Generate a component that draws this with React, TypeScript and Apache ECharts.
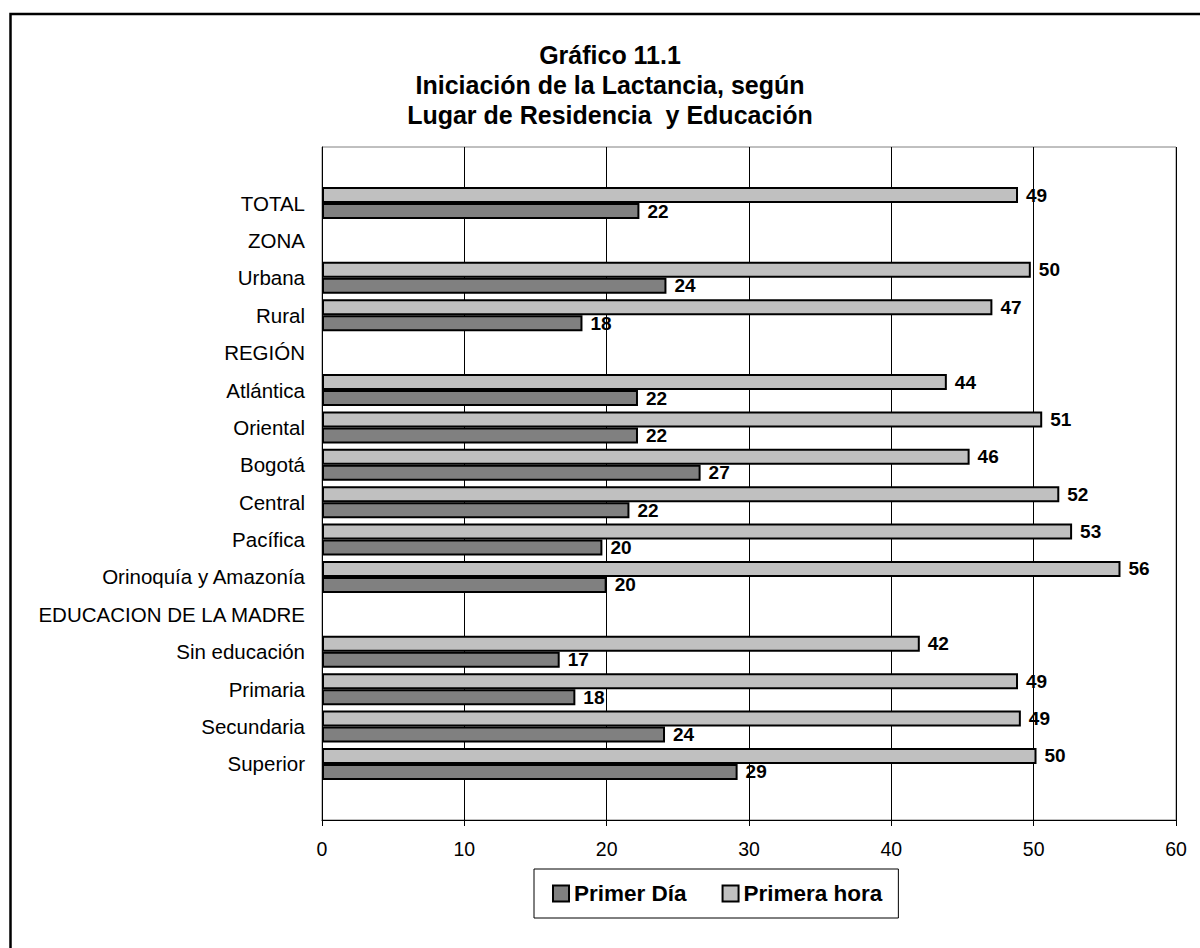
import React, { useEffect, useRef } from "react";
import * as echarts from "echarts";

const categories = [
  "",
  "TOTAL",
  "ZONA",
  "Urbana",
  "Rural",
  "REGIÓN",
  "Atlántica",
  "Oriental",
  "Bogotá",
  "Central",
  "Pacífica",
  "Orinoquía y Amazonía",
  "EDUCACION DE LA MADRE",
  "Sin educación",
  "Primaria",
  "Secundaria",
  "Superior",
  "",
];

const primerDia = [null, 22.3, null, 24.2, 18.3, null, 22.2, 22.2, 26.6, 21.6, 19.7, 20.0, null, 16.7, 17.8, 24.1, 29.2, null];
const primeraHora = [null, 48.9, null, 49.8, 47.1, null, 43.9, 50.6, 45.5, 51.8, 52.7, 56.1, null, 42.0, 48.9, 49.1, 50.2, null];

const xTicks = { min: 0, max: 60, interval: 10 };

const FONT = '"Liberation Sans", Arial, sans-serif';

export default function App() {
  const ref = useRef<HTMLDivElement>(null);
  useEffect(() => {
    document.body.style.margin = "0";
    if (!ref.current) return;
    const chart = echarts.init(ref.current, undefined, { renderer: "svg" });
    const labelCfg = {
      show: true,
      position: "right",
      distance: 8,
      fontFamily: FONT,
      fontWeight: "bold",
      fontSize: 19,
      color: "#000",
      formatter: (p: any) => String(Math.round(p.value)),
    };
    chart.setOption({
      animation: false,
      backgroundColor: "#fff",
      textStyle: { fontFamily: FONT },
      grid: {
        left: 322,
        top: 147,
        right: 24,
        bottom: 128,
        show: true,
        borderColor: "#808080",
        borderWidth: 1,
        containLabel: false,
      },
      legend: {
        left: 534,
        top: 869,
        orient: "horizontal",
        data: ["Primer Día", "Primera hora"],
        icon: "rect",
        itemWidth: 16,
        itemHeight: 16,
        itemGap: 35,
        padding: [13, 16, 13, 18],
        borderColor: "#000",
        borderWidth: 1,
        textStyle: { fontFamily: FONT, fontWeight: "bold", fontSize: 22.5, color: "#000" },
      },
      xAxis: {
        type: "value",
        min: xTicks.min,
        max: xTicks.max,
        interval: xTicks.interval,
        axisLine: { show: true, lineStyle: { color: "#000", width: 1 } },
        axisTick: { show: true, length: 6, lineStyle: { color: "#000" } },
        axisLabel: { color: "#000", fontSize: 19.5, fontFamily: FONT, margin: 19 },
        splitLine: { show: true, lineStyle: { color: "#000", width: 1 } },
      },
      yAxis: {
        type: "category",
        inverse: true,
        data: categories,
        axisLine: { show: true, lineStyle: { color: "#000", width: 1 } },
        axisTick: { show: false },
        axisLabel: { color: "#000", fontSize: 20.5, fontFamily: FONT, margin: 17 },
        splitLine: { show: false },
      },
      series: [
        {
          name: "Primera hora",
          type: "bar",
          data: primeraHora,
          barWidth: 16,
          barGap: "0%",
          itemStyle: { color: "#C0C0C0", borderColor: "#000", borderWidth: 2 },
          label: labelCfg,
        },
        {
          name: "Primer Día",
          type: "bar",
          data: primerDia,
          barWidth: 16,
          barGap: "0%",
          itemStyle: { color: "#808080", borderColor: "#000", borderWidth: 2 },
          label: labelCfg,
        },
      ],
      graphic: [
        {
          type: "rect",
          shape: { x: 10.5, y: 14, width: 1400, height: 1100 },
          style: { fill: "none", stroke: "#000", lineWidth: 2.5 },
          silent: true,
        },
        {
          type: "text",
          x: 610,
          y: 40,
          style: {
            text: "Gráfico 11.1\nIniciación de la Lactancia, según\nLugar de Residencia  y Educación",
            textAlign: "center",
            textVerticalAlign: "top",
            fontFamily: FONT,
            fontWeight: "bold",
            fontSize: 25,
            lineHeight: 30,
            fill: "#000",
          },
        },
      ],
    });
    return () => chart.dispose();
  }, []);
  return <div ref={ref} style={{ width: 1200, height: 948 }} />;
}
